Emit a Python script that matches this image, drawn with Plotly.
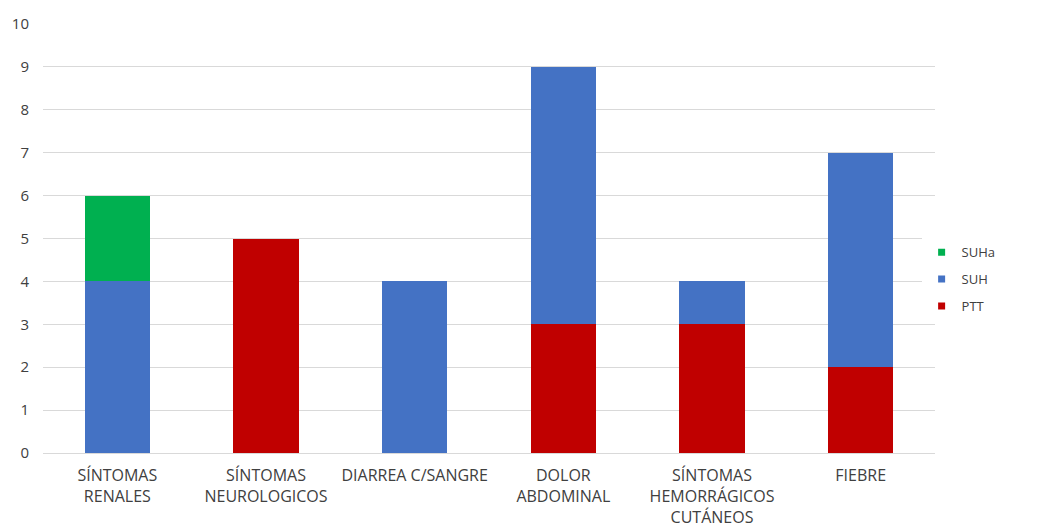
import plotly.graph_objects as go

categories = ["SÍNTOMAS<br>RENALES", "SÍNTOMAS<br>NEUROLOGICOS", "DIARREA C/SANGRE",
              "DOLOR<br>ABDOMINAL", "SÍNTOMAS<br>HEMORRÁGICOS<br>CUTÁNEOS", "FIEBRE"]
ptt = [0, 5, 0, 3, 3, 2]
suh = [4, 0, 4, 6, 1, 5]
suha = [2, 0, 0, 0, 0, 0]

colors = {"PTT": "#C00000", "SUH": "#4472C4", "SUHa": "#00B050"}

fig = go.Figure()
# legend entries with small square markers (listed top to bottom)
for name in ["SUHa", "SUH", "PTT"]:
    fig.add_trace(go.Scatter(name=name, x=[None], y=[None], mode="markers",
                             marker=dict(symbol="square", size=7, color=colors[name]),
                             legendgroup=name, showlegend=True))
for name, vals in [("PTT", ptt), ("SUH", suh), ("SUHa", suha)]:
    fig.add_trace(go.Bar(name=name, x=categories, y=vals, marker_color=colors[name],
                         marker_line_width=0, showlegend=False, legendgroup=name))

fig.update_layout(
    barmode="stack",
    bargap=0.56,
    width=1047, height=529,
    margin=dict(l=43, r=112, t=24, b=76),
    plot_bgcolor="white", paper_bgcolor="white",
    font=dict(family="Open Sans, Liberation Sans, sans-serif", size=15, color="#404040"),
    legend=dict(traceorder="grouped", x=0.985, xanchor="left", y=0.405, yanchor="middle",
                font=dict(size=13, color="#404040"), itemwidth=30, tracegroupgap=7),
    xaxis=dict(type="category", categoryorder="array", categoryarray=categories,
               showgrid=False, showline=True, linecolor="#d9d9d9", ticks="",
               tickfont=dict(size=16), ticklabelstandoff=8, automargin=False),
    yaxis=dict(range=[0, 10], dtick=1, showgrid=True, gridcolor="#d9d9d9",
               zeroline=False, ticks="", tickfont=dict(size=15), ticklabelstandoff=13,
               automargin=False),
)
fig.write_html("out.html")
